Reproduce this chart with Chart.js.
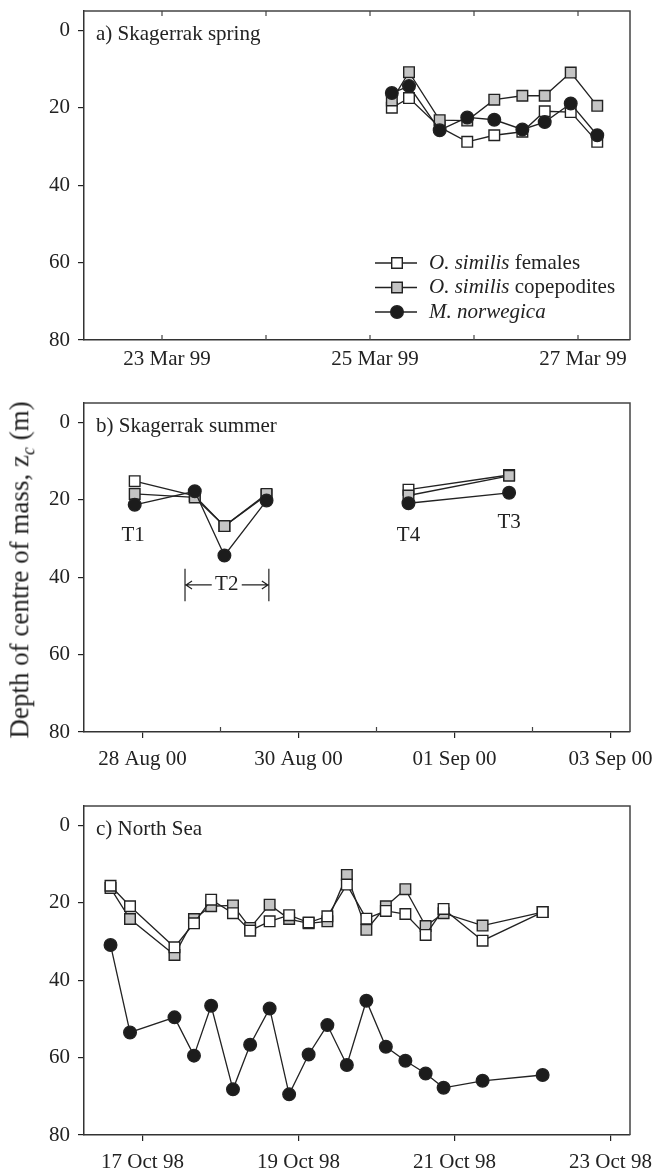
<!DOCTYPE html>
<html>
<head>
<meta charset="utf-8">
<script src="https://cdn.jsdelivr.net/npm/chart.js@4.4.1/dist/chart.umd.min.js"></script>
<style>
  body { margin: 0; background: #fff; width: 654px; height: 1172px; position: relative; overflow: hidden; font-family: "Liberation Serif", serif; }
  .panel { position: absolute; left: 0; width: 654px; }
  #ytitle { position: absolute; left: 22px; top: 570px; transform: translate(-50%, -50%) rotate(-90deg); white-space: nowrap; font-size: 27px; color: #222; }
  #ytitle sub { font-size: 18px; }
</style>
</head>
<body>
<div class="panel" style="top:0;height:380px"><canvas id="springChart"></canvas></div>
<div class="panel" style="top:380px;height:390px"><canvas id="summerChart"></canvas></div>
<div class="panel" style="top:780px;height:392px"><canvas id="northChart"></canvas></div>
<div id="ytitle">Depth of centre of mass, z<sub><i>c</i></sub> (m)</div>
<script>
// depth axis
const depthTicks = [0, 20, 40, 60, 80];

// a) Skagerrak spring (day of March 1999)
const springTime = [25.21, 25.375, 25.67, 25.935, 26.195, 26.465, 26.68, 26.93, 27.185];
const springFemales = [20.0, 17.5, 25.0, 28.8, 27.1, 26.2, 20.9, 21.1, 28.8];
const springCopepodites = [18.1, 10.8, 23.2, 23.3, 17.9, 16.9, 16.9, 10.9, 19.5];
const springMeganyct = [16.2, 14.4, 25.8, 22.5, 23.1, 25.6, 23.7, 18.9, 27.1];
const springTicks = [23, 25, 27];
const springTickLabels = ['23 Mar 99', '25 Mar 99', '27 Mar 99'];

// b) Skagerrak summer (day counted from 1 Aug 2000; null = gap between transects)
const summerTime = [27.90, 28.67, 29.05, 29.59, null, 31.41, 32.70];
const summerFemales = [15.2, 19.0, 26.8, 18.8, null, 17.4, 13.6];
const summerCopepodites = [18.5, 19.4, 26.8, 18.5, null, 18.9, 13.8];
const summerMeganyct = [21.3, 17.8, 34.4, 20.2, null, 20.9, 18.2];
const summerTicks = [28, 30, 32, 34];
const summerTickLabels = ['28 Aug 00', '30 Aug 00', '01 Sep 00', '03 Sep 00'];

// c) North Sea (day of October 1998)
const northTime = [16.59, 16.84, 17.41, 17.66, 17.88, 18.16, 18.38, 18.63, 18.88, 19.13,
                   19.37, 19.62, 19.87, 20.12, 20.37, 20.63, 20.86, 21.36, 22.13];
const northFemales = [15.6, 20.9, 31.5, 25.3, 19.2, 22.7, 27.2, 24.8, 23.2, 25.1,
                      23.5, 15.3, 24.1, 22.1, 22.9, 28.3, 21.6, 29.8, 22.4];
const northCopepodites = [16.2, 24.2, 33.5, 24.2, 20.9, 20.7, 26.5, 20.5, 24.2, 25.3,
                          24.8, 12.8, 27.0, 20.9, 16.5, 26.0, 22.7, 25.9, 22.4];
const northMeganyct = [30.9, 53.5, 49.6, 59.5, 46.6, 68.2, 56.7, 47.3, 69.5, 59.2,
                       51.6, 61.9, 45.3, 57.2, 60.8, 64.1, 67.8, 66.0, 64.5];
const northTicks = [17, 19, 21, 23];
const northTickLabels = ['17 Oct 98', '19 Oct 98', '21 Oct 98', '23 Oct 98'];

const legendItalic = ['O. similis', 'O. similis', 'M. norwegica'];
const legendPlain = [' females', ' copepodites', ''];

Chart.defaults.font.family = '"Liberation Serif", serif';
Chart.defaults.font.size = 21;
Chart.defaults.color = '#222';

const INK = '#222';
const styles = [
  { pointStyle: 'rect', pointRadius: 7.5, fill: '#ffffff' },
  { pointStyle: 'rect', pointRadius: 7.5, fill: '#c4c4c4' },
  { pointStyle: 'circle', pointRadius: 6.3, fill: '#1c1c1c' }
];

function series(time, values) {
  return time.map((t, i) => ({ x: t, y: values[i] }));
}

function drawMarker(ctx, s, x, y) {
  ctx.fillStyle = s.fill;
  ctx.strokeStyle = INK;
  ctx.lineWidth = 1.4;
  Chart.helpers.drawPoint(ctx, { pointStyle: s.pointStyle, radius: s.pointRadius, rotation: 0, borderWidth: 1.4 }, x, y);
}

function makeDecor(p) {
  return {
    id: 'decor',
    afterDraw(chart) {
      const { ctx, chartArea: a, scales: { x, y } } = chart;
      ctx.save();
      ctx.strokeStyle = '#444';
      ctx.lineWidth = 1.5;
      ctx.beginPath();
      ctx.moveTo(a.left, a.top);
      ctx.lineTo(a.right, a.top);
      ctx.lineTo(a.right, a.bottom);
      ctx.stroke();

      ctx.lineWidth = 1.2;
      ctx.beginPath();
      (p.inward || []).forEach(v => {
        const px = x.getPixelForValue(v);
        ctx.moveTo(px, a.bottom); ctx.lineTo(px, a.bottom - 5);
        if (p.inwardTop) { ctx.moveTo(px, a.top); ctx.lineTo(px, a.top + 5); }
      });
      ctx.stroke();

      ctx.fillStyle = INK;
      ctx.font = '21px "Liberation Serif"';
      ctx.textAlign = 'left';
      ctx.textBaseline = 'alphabetic';
      ctx.fillText(p.title, a.left + 12, a.top + 29);

      if (p.extra) p.extra(chart, ctx);
      ctx.restore();
    }
  };
}

function makeChart(id, p) {
  const values = [p.females, p.copepodites, p.meganyct];
  const names = ['O. similis females', 'O. similis copepodites', 'M. norwegica'];
  const datasets = values.map((v, i) => ({
    label: names[i],
    data: series(p.time, v),
    order: p.order[i],
    borderColor: INK,
    borderWidth: 1.3,
    tension: 0,
    spanGaps: false,
    pointStyle: styles[i].pointStyle,
    pointRadius: styles[i].pointRadius,
    pointHoverRadius: styles[i].pointRadius,
    pointBackgroundColor: styles[i].fill,
    pointBorderColor: INK,
    pointBorderWidth: 1.4
  }));

  return new Chart(document.getElementById(id), {
    type: 'line',
    data: { datasets },
    options: {
      responsive: true,
      maintainAspectRatio: false,
      animation: false,
      events: [],
      layout: { padding: { top: p.padTop, right: 24, left: 0, bottom: 0 } },
      plugins: { legend: { display: false }, tooltip: { enabled: false } },
      scales: {
        x: {
          type: 'linear',
          min: p.xMin,
          max: p.xMax,
          afterBuildTicks: s => { s.ticks = p.ticks.map(v => ({ value: v })); },
          afterFit: s => { s.height = p.axisH; s.paddingLeft = 0; s.paddingRight = 0; },
          ticks: {
            autoSkip: false,
            maxRotation: 0,
            padding: p.outTicks ? 9 : 7,
            labelOffset: p.labelShift || 0,
            callback: v => p.tickLabels[p.ticks.indexOf(v)]
          },
          grid: { drawOnChartArea: false, drawTicks: p.outTicks, tickLength: 6, color: INK, lineWidth: 1.2 },
          border: { display: true, color: '#333', width: 1.5 }
        },
        y: {
          type: 'linear',
          reverse: true,
          min: -5,
          max: 80,
          afterBuildTicks: s => { s.ticks = depthTicks.map(v => ({ value: v })); },
          afterFit: s => { s.width = 84; s.paddingTop = 0; s.paddingBottom = 0; },
          ticks: { padding: 8 },
          grid: { drawOnChartArea: false, drawTicks: true, tickLength: 6, color: INK, lineWidth: 1.2 },
          border: { display: true, color: '#333', width: 1.5 }
        }
      }
    },
    plugins: [makeDecor(p)]
  });
}

// a) spring, with legend
makeChart('springChart', {
  time: springTime, females: springFemales, copepodites: springCopepodites, meganyct: springMeganyct,
  order: [2, 1, 0], xMin: 22.25, xMax: 27.5, ticks: springTicks, tickLabels: springTickLabels,
  padTop: 11, axisH: 40, outTicks: false, inward: [23, 24, 25, 26, 27], inwardTop: true, labelShift: 5,
  title: 'a) Skagerrak spring',
  extra: (chart, ctx) => {
    const rows = [263, 287.5, 312];
    rows.forEach((ry, i) => {
      ctx.strokeStyle = INK;
      ctx.lineWidth = 1.3;
      ctx.beginPath(); ctx.moveTo(375, ry); ctx.lineTo(417, ry); ctx.stroke();
      drawMarker(ctx, styles[i], 397, ry);
      ctx.fillStyle = INK;
      ctx.textBaseline = 'middle';
      ctx.textAlign = 'left';
      ctx.font = 'italic 21px "Liberation Serif"';
      ctx.fillText(legendItalic[i], 429, ry);
      const w = ctx.measureText(legendItalic[i]).width;
      ctx.font = '21px "Liberation Serif"';
      ctx.fillText(legendPlain[i], 429 + w, ry);
    });
  }
});

// b) summer, with transect labels
makeChart('summerChart', {
  time: summerTime, females: summerFemales, copepodites: summerCopepodites, meganyct: summerMeganyct,
  order: [2, 1, 0], xMin: 27.25, xMax: 34.25, ticks: summerTicks, tickLabels: summerTickLabels,
  padTop: 23, axisH: 38, outTicks: true, inward: [29, 31, 33], inwardTop: false,
  title: 'b) Skagerrak summer',
  extra: (chart, ctx) => {
    const { x, y } = chart.scales;
    ctx.fillStyle = INK;
    ctx.font = '21px "Liberation Serif"';
    ctx.textAlign = 'center';
    ctx.textBaseline = 'middle';
    ctx.fillText('T1', x.getPixelForValue(27.88), y.getPixelForValue(29.2));
    ctx.fillText('T4', x.getPixelForValue(31.41), y.getPixelForValue(29.2));
    ctx.fillText('T3', x.getPixelForValue(32.70), y.getPixelForValue(25.8));
    const cx = x.getPixelForValue(29.08), cy = y.getPixelForValue(42);
    const l = x.getPixelForValue(28.545), r = x.getPixelForValue(29.62);
    const top = y.getPixelForValue(37.8), bot = y.getPixelForValue(46.2);
    ctx.fillText('T2', cx, cy);
    ctx.strokeStyle = INK;
    ctx.lineWidth = 1.2;
    ctx.beginPath();
    ctx.moveTo(l, top); ctx.lineTo(l, bot);
    ctx.moveTo(r, top); ctx.lineTo(r, bot);
    ctx.moveTo(l, cy); ctx.lineTo(cx - 15, cy);
    ctx.moveTo(cx + 15, cy); ctx.lineTo(r, cy);
    ctx.moveTo(l + 7, cy - 4); ctx.lineTo(l + 1, cy); ctx.lineTo(l + 7, cy + 4);
    ctx.moveTo(r - 7, cy - 4); ctx.lineTo(r - 1, cy); ctx.lineTo(r - 7, cy + 4);
    ctx.stroke();
  }
});

// c) North Sea
makeChart('northChart', {
  time: northTime, females: northFemales, copepodites: northCopepodites, meganyct: northMeganyct,
  order: [0, 1, 2], xMin: 16.25, xMax: 23.25, ticks: northTicks, tickLabels: northTickLabels,
  padTop: 26, axisH: 37, outTicks: true, inward: [], inwardTop: false,
  title: 'c) North Sea'
});
</script>
</body>
</html>
